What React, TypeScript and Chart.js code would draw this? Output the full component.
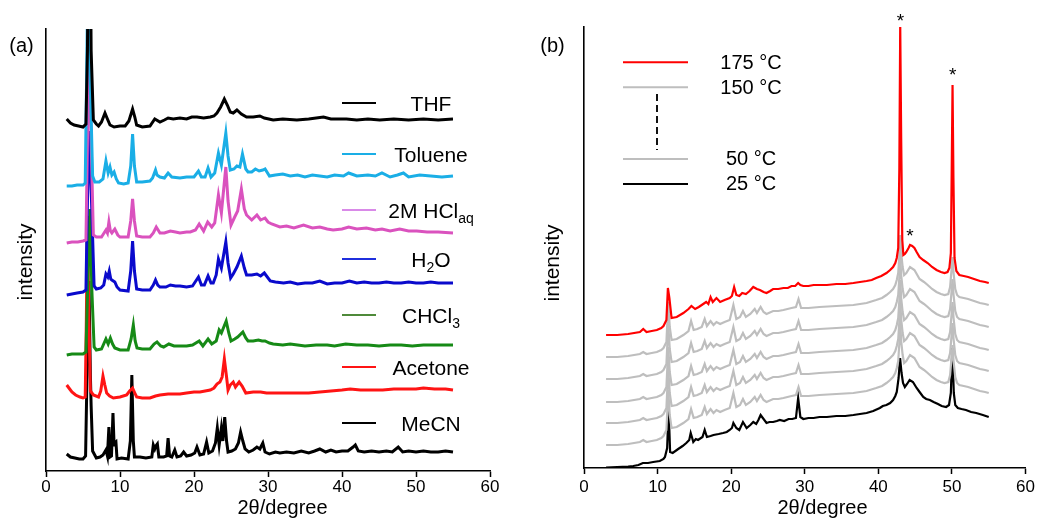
import React, { useEffect, useRef } from "react";
import { Chart, registerables } from "chart.js";

Chart.register(...registerables);

const FONT = "'Liberation Sans', Arial, Helvetica, sans-serif";

// ---------------- Panel (a): [2θ, intensity (offset, a.u.)] ----------------
const thf = [[2.8,352],[3.3,348],[3.8,346],[4.4,345],[5.0,344],[5.4,347],[5.6,420],[5.86,650],[6.1,420],[6.4,351],[6.8,347],[7.1,345],[7.5,349],[7.97,358],[8.3,352],[8.65,346],[9.2,344],[10.0,345],[10.7,345],[11.2,350],[11.7,362],[12.0,354],[12.25,346],[13.0,344],[14.05,345],[14.7,352],[15.4,349],[16.0,351],[16.5,353],[17.2,352],[18.1,353],[19.0,352],[19.7,354],[20.4,354],[21.3,353],[22.2,354],[22.7,355],[23.1,358],[23.6,364],[24.1,372],[24.5,366],[24.9,359],[25.3,358],[25.8,361],[26.4,357],[27.1,354],[28.0,354],[28.9,355],[29.5,353],[30.7,351],[32.0,352],[33.9,351],[35.5,352],[37.5,354],[38.5,352],[40.6,352],[42,351],[43.5,352],[45.1,351],[47,352],[49,351],[51,352],[53,351],[55,352]];
const toluene = [[2.8,285],[3.5,285],[4.2,286],[5.0,286],[5.3,288],[5.5,400],[5.7,520],[5.95,400],[6.3,295],[6.6,289],[7.2,289],[7.7,292],[8.1,310],[8.4,298],[8.65,304],[8.9,296],[9.2,299],[9.5,292],[9.8,288],[10.5,287],[11.1,288],[11.45,305],[11.7,337],[11.95,305],[12.25,289],[13.0,289],[14.05,290],[14.4,293],[14.8,301],[15.0,296],[15.4,294],[16.0,293],[16.5,298],[17.0,294],[18.1,293],[19.0,294],[20.0,294],[20.6,300],[21.0,294],[21.5,294],[21.9,303],[22.3,294],[22.8,298],[23.3,318],[23.7,306],[24.3,338],[24.6,315],[24.9,301],[25.4,302],[25.8,305],[26.2,304],[26.55,317],[27.0,302],[27.3,299],[27.8,299],[28.3,302],[28.8,300],[29.3,301],[29.6,302],[30.2,295],[31,296],[32,297],[33,295],[34,296],[35,294],[36,296],[37,295],[38,294],[39,296],[40.2,295],[40.9,298],[42,295],[43.5,296],[44.5,295],[45.4,298],[46.5,294],[47.5,296],[48.3,298],[49,294],[50.5,296],[52,295],[53.5,294],[55,295]];
const hclAq = [[2.8,228],[3.5,229],[4.3,229],[5.0,230],[5.4,231],[5.6,330],[5.85,430],[6.1,330],[6.4,236],[6.8,234],[7.5,234],[8.1,241],[8.3,238],[8.5,249],[8.7,240],[8.9,238],[9.3,242],[9.7,236],[10.0,234],[11.1,234],[11.45,250],[11.7,272],[11.95,250],[12.25,235],[13.0,234],[14.05,234],[14.5,238],[14.9,244],[15.4,238],[16.0,238],[16.8,240],[17.5,239],[18.1,238],[19.0,239],[19.5,239],[20.2,241],[20.7,247],[21.3,240],[21.85,249],[22.4,244],[22.8,248],[23.3,276],[23.7,258],[24.3,304],[24.6,270],[25.0,246],[25.5,254],[25.9,260],[26.4,282],[26.8,262],[27.1,256],[27.8,251],[28.5,256],[29.0,251],[29.6,253],[30.0,249],[30.5,247],[31.6,244],[32.5,245],[33.5,243],[34.8,246],[36,243],[37,244],[38,242],[38.8,241],[40,242],[40.9,244],[42,242],[43.3,243],[44.5,241],[45.4,242],[46.5,240],[47.8,242],[49,240],[50.1,240],[51.5,239],[53,239],[55,238]];
const water = [[2.8,176],[3.5,177],[4.2,178],[5.0,179],[5.4,181],[5.6,270],[5.9,340],[6.15,270],[6.5,185],[6.8,182],[7.4,183],[7.8,186],[8.1,197],[8.35,194],[8.55,200],[8.75,192],[8.9,191],[9.3,189],[9.6,184],[10.0,181],[11.1,180],[11.45,200],[11.7,230],[11.95,200],[12.25,182],[13.0,181],[14.05,181],[14.5,186],[14.8,191],[15.1,186],[15.4,184],[16.2,184],[16.8,186],[17.5,185],[18.1,185],[19.0,184],[19.8,185],[20.6,194],[21.0,186],[21.4,186],[21.9,195],[22.3,188],[22.6,188],[23.0,196],[23.3,212],[23.7,203],[24.3,229],[24.6,208],[24.95,193],[25.3,197],[25.8,204],[26.4,215],[26.8,203],[27.1,196],[27.8,196],[28.5,197],[29.0,195],[29.5,198],[30.3,190],[31,189],[32.1,188],[33,189],[34,187],[35,188],[36,188],[37,190],[38,187],[39,188],[40,188],[41,190],[42,188],[43,189],[44,188],[45,188],[46,189],[47,188],[48,188],[49,189],[50,188],[51,188],[52,189],[53,188],[55,188]];
const chloroform = [[2.8,116],[3.5,117],[4.3,117],[5.0,117],[5.4,119],[5.65,190],[5.95,262],[6.2,180],[6.5,124],[6.8,121],[7.5,122],[8.1,132],[8.4,127],[8.7,133],[9.0,127],[9.3,123],[10.0,121],[11.1,121],[11.5,132],[11.8,146],[12.05,130],[12.3,123],[13.0,122],[14.05,122],[14.6,127],[15.0,129],[15.5,125],[15.9,124],[16.6,127],[17.3,125],[18.1,125],[19.0,125],[19.8,126],[20.7,130],[21.2,125],[21.9,132],[22.4,127],[23.0,130],[23.4,141],[23.7,138],[24.35,150],[24.7,138],[25.0,130],[25.5,132],[25.9,134],[26.6,139],[27.0,133],[27.3,130],[28.0,130],[28.7,131],[29.2,130],[29.6,130],[30.2,128],[30.7,127],[32,126],[33,127],[34,126],[35,125],[36.5,126],[38,126],[39,125],[40.5,127],[42,126],[43.5,126],[45,125],[46.5,126],[48,126],[49.5,125],[51,126],[53,126],[55,126]];
const acetone = [[2.8,86],[3.2,82],[3.5,79],[4.0,76],[4.6,74],[5.0,73],[5.3,74],[5.45,150],[5.6,255],[5.8,150],[6.0,80],[6.4,76],[7.1,74],[7.4,80],[7.7,95],[7.95,86],[8.2,78],[8.6,75],[9.1,73],[10.0,74],[10.9,76],[11.3,80],[11.7,83],[12.0,78],[12.25,74],[13.0,73],[14.05,73],[14.8,75],[15.4,76],[16.5,77],[17.2,77],[18.1,77],[19.0,78],[20.0,79],[20.8,79],[21.5,80],[22.2,81],[22.7,83],[23.1,87],[23.5,89],[23.8,94],[24.1,112],[24.4,94],[24.6,81],[24.9,86],[25.3,89],[25.6,84],[26.1,89],[26.5,85],[27.0,78],[28.0,79],[29.0,79],[29.8,78],[31,78],[32.1,78],[34,78],[35.5,78],[37,79],[38.5,80],[40,81],[41.1,82],[42.5,81],[44,81],[45.5,81],[47,82],[48.5,82],[50,82],[51,83],[52.5,82],[54,82],[55,81]];
const acetonitrile = [[2.8,17],[3.3,14],[3.9,13],[4.5,12],[5.0,12],[5.35,15],[5.55,100],[5.8,190],[6.0,95],[6.1,65],[6.3,20],[6.8,13],[7.3,14],[7.7,16],[8.1,21],[8.3,15],[8.5,44],[8.65,14],[8.85,15],[9.05,58],[9.2,26],[9.3,28],[9.45,29],[9.6,12],[10.2,13],[11.1,12],[11.4,30],[11.6,96],[11.8,30],[11.95,14],[12.7,14],[13.5,13],[14.3,14],[14.5,26],[14.7,22],[14.85,25],[15.05,27],[15.25,14],[15.9,14],[16.3,15],[16.5,33],[16.7,15],[17.0,14],[17.4,21],[17.7,14],[18.2,15],[18.6,19],[19.0,15],[19.6,16],[20.1,18],[20.4,24],[20.8,16],[21.3,17],[21.7,29],[22.0,18],[22.5,20],[22.9,28],[23.15,43],[23.4,26],[23.7,43],[23.9,30],[24.15,54],[24.4,30],[24.6,19],[25.1,20],[25.6,22],[26.0,28],[26.3,39],[26.6,30],[26.9,22],[27.4,19],[28.0,21],[28.5,24],[28.9,22],[29.3,28],[29.6,19],[30.2,17],[31.0,19],[31.6,18],[32.5,19],[33.5,18],[34.5,20],[35.5,18],[36.3,20],[37.0,22],[37.8,19],[38.5,21],[39.2,19],[40,20],[40.8,20],[41.5,24],[41.8,26],[42.2,20],[43,19],[44,20],[45,19],[46,20],[46.8,19],[47.6,24],[48.2,19],[49,20],[50,19],[51,20],[52,19],[53,19],[54,20],[55,19]];

const solventSeries = [thf, toluene, hclAq, water, chloroform, acetone, acetonitrile];
const solventLabels = ["THF", "Toluene", "2M HCl{aq}", "H{2}O", "CHCl{3}", "Acetone", "MeCN"];
const solventColors = ["#000000", "#1AAEE6", "#DA52BE", "#0A0ACC", "#168A16", "#FF1414", "#000000"];
const solventLegendColors = ["#000000", "#1AAEE6", "#D98AE8", "#1F2FDD", "#4F8A3A", "#FF1414", "#000000"];

// ---------------- Panel (b): [2θ, intensity (offset, a.u.)] ----------------
const t175 = [[3,133],[4.5,133],[6,134],[7.6,136],[8.05,139],[8.5,136],[9.2,137],[9.9,138],[10.5,140],[10.8,142],[11.2,148],[11.4,180],[11.6,170],[11.9,150],[12.6,151],[13.5,155],[14.2,159],[14.6,162],[15.1,159],[15.6,161],[16.0,163],[16.6,166],[16.9,164],[17.2,171],[17.5,166],[18.0,170],[18.5,166],[19.1,168],[19.8,170],[20.1,172],[20.4,181],[20.7,173],[21.1,172],[21.5,175],[22.0,174],[22.5,177],[23.0,181],[23.5,179],[23.9,178],[24.4,176],[24.8,175],[25.3,177],[25.7,179],[26.4,179],[27.1,180],[27.7,180],[28.2,182],[28.7,182],[29.1,185],[29.4,183],[29.8,182],[30.5,182],[31.2,183],[32,183],[33,183],[34.3,184],[35.5,184],[36.6,185],[37.5,186],[38.4,187],[39.1,188],[39.7,190],[40.4,192],[41.1,195],[41.6,198],[42,201],[42.3,205],[42.5,210],[42.7,220],[42.85,300],[42.97,443],[43.1,330],[43.25,228],[43.4,213],[43.6,214],[43.8,216],[44.1,220],[44.3,223],[44.6,222],[44.9,220],[45.2,216],[45.6,211],[46.1,208],[46.7,205],[47.3,201],[47.9,198],[48.5,196],[49,195],[49.4,196],[49.65,200],[49.85,215],[49.97,300],[50.08,383],[50.2,290],[50.35,210],[50.6,197],[51,193],[51.6,192],[52.2,191],[53,189],[53.8,187],[54.5,186],[55,185]];
// shared pattern of the intermediate (150 °C … 50 °C) scans, relative to each scan's own offset
const gray2Theta = [3,4.5,6,7.6,8.05,8.5,9.2,9.9,10.5,10.8,11.2,11.45,11.65,11.9,12.6,13.5,14.2,14.55,14.9,15.4,16.0,16.4,16.7,17.2,17.6,18.0,18.5,19.1,19.8,20.3,20.7,21.2,21.6,22.0,22.6,23.2,23.5,24.0,24.4,24.8,25.7,26.4,27.1,28.2,28.8,29.15,29.5,30.5,32,34.3,36.6,38.4,39.7,40.5,41.1,41.6,42,42.3,42.5,42.7,42.88,42.98,43.1,43.3,43.5,43.8,44.3,44.9,45.6,46.2,46.7,47.3,47.9,48.5,49,49.5,49.75,49.95,50.08,50.22,50.45,50.7,51,51.6,52.2,53,53.8,54.5,55];
const grayRelative = [0,0,1,3,5,3,4,5,7,9,15,55,30,17,18,22,26,36,27,28,30,38,31,36,32,35,33,35,37,52,38,40,46,40,43,48,44,50,45,43,46,46,47,49,50,58,49,49,50,51,52,54,57,59,62,65,68,72,77,84,105,122,104,90,82,84,90,87,78,75,72,68,65,63,62,63,70,88,100,84,68,62,60,59,58,56,54,53,52];
const grayOffsets = [111, 89, 66, 45, 23]; // 150, 125, 100, 75, 50 °C
const t25 = [[3,0.5],[4.5,1],[6,1.5],[6.7,2],[7.4,3],[8,5],[8.7,5],[9.4,6],[10.3,7],[10.8,9],[11.0,11],[11.3,20],[11.5,60],[11.7,16],[12.05,15],[12.8,19],[13.4,22],[13.9,25],[14.3,28],[14.5,35],[14.7,30],[14.85,26],[15.2,29],[15.5,28],[16.1,31],[16.4,38],[16.7,31],[17.2,32],[17.6,33],[18.3,34],[18.9,35],[19.4,36],[19.8,38],[20.1,40],[20.3,45],[20.7,40],[21.1,38],[21.6,46],[22.1,40],[22.6,43],[23.0,46],[23.4,44],[23.7,48],[24.0,53],[24.3,50],[24.8,45],[25.2,46],[25.7,46],[26.2,47],[26.6,48],[27.2,47],[27.8,49],[28.3,49],[28.8,50],[29.1,70],[29.4,51],[29.8,49],[30.5,50],[31.2,50],[32,51],[33,51],[34.3,52],[35.5,52],[36.6,53],[37.5,54],[38.4,55],[39.3,57],[40.2,60],[40.6,62],[41.1,63],[41.6,65],[42,68],[42.3,72],[42.5,76],[42.75,90],[42.95,110],[43.15,95],[43.35,85],[43.6,81],[43.9,84],[44.25,88],[44.7,86],[45.2,80],[45.6,76],[46.1,71],[46.5,69],[47,68],[47.5,66],[48.1,64],[48.6,62],[49.2,61],[49.6,63],[49.85,75],[50.05,120],[50.25,75],[50.45,63],[50.8,60],[51.3,59],[51.9,58],[52.6,56],[53.3,55],[54.2,53],[55,51]];
const tempLabels = ["175 °C", "150 °C", "125 °C", "100 °C", "75 °C", "50 °C", "25 °C"];
const tempColors = ["#FF0000", "#BEBEBE", "#BEBEBE", "#BEBEBE", "#BEBEBE", "#BEBEBE", "#000000"];
const legendTemps = ["175 °C", "150 °C", "50 °C", "25 °C"];
const starX = [43.0, 44.3, 50.1];
const starY = [452, 237, 398];

const xTickValues = [0, 10, 20, 30, 40, 50, 60];

// ---------------- helpers ----------------
function pts(arr: number[][]) {
  return arr.map(([x, y]) => ({ x, y }));
}

function drawRich(ctx: CanvasRenderingContext2D, s: string, cx: number, cy: number, size: number) {
  const parts: { t: string; sub: boolean }[] = [];
  s.split(/(\{[^}]*\})/).forEach((p) => {
    if (!p) return;
    if (p.startsWith("{")) parts.push({ t: p.slice(1, -1), sub: true });
    else parts.push({ t: p, sub: false });
  });
  const sub = Math.round(size * 0.67);
  let total = 0;
  const widths = parts.map((p) => {
    ctx.font = `${p.sub ? sub : size}px ${FONT}`;
    const w = ctx.measureText(p.t).width;
    total += w;
    return w;
  });
  let x = cx - total / 2;
  const base = cy + 0.358 * size;
  ctx.textAlign = "left";
  ctx.textBaseline = "alphabetic";
  parts.forEach((p, i) => {
    ctx.font = `${p.sub ? sub : size}px ${FONT}`;
    ctx.fillText(p.t, x, p.sub ? base + size * 0.24 : base);
    x += widths[i];
  });
}

function centered(ctx: CanvasRenderingContext2D, s: string, x: number, y: number, size: number, rot = 0) {
  ctx.save();
  ctx.translate(x, y);
  if (rot) ctx.rotate(rot);
  ctx.font = `${size}px ${FONT}`;
  ctx.textAlign = "center";
  ctx.textBaseline = "middle";
  ctx.fillText(s, 0, 0);
  ctx.restore();
}

function seg(ctx: CanvasRenderingContext2D, x1: number, y1: number, x2: number, y2: number, color: string, w: number, dash: number[] = []) {
  ctx.save();
  ctx.strokeStyle = color;
  ctx.lineWidth = w;
  ctx.setLineDash(dash);
  ctx.beginPath();
  ctx.moveTo(x1, y1);
  ctx.lineTo(x2, y2);
  ctx.stroke();
  ctx.restore();
}

const xAxisCommon = (height: number, pad: number) => ({
  type: "linear",
  min: 0,
  max: 60,
  afterBuildTicks: (scale: any) => {
    scale.ticks = xTickValues.map((v) => ({ value: v }));
  },
  ticks: { color: "#000", font: { size: 17, family: FONT }, padding: pad, maxRotation: 0 },
  grid: { display: true, drawOnChartArea: false, drawTicks: true, tickLength: 6, tickColor: "#000", tickWidth: 1.5, color: "#000" },
  border: { display: true, color: "#000", width: 1.6 },
  afterFit: (scale: any) => {
    scale.height = height;
  },
});

const yAxisCommon = (max: number, width: number) => ({
  type: "linear",
  min: 0,
  max,
  ticks: { display: false },
  grid: { display: false },
  border: { display: true, color: "#000", width: 1.6 },
  afterFit: (scale: any) => {
    scale.width = width;
  },
});

// ---------------- panel (a) ----------------
const legendAY = [103, 154, 210, 259, 315, 367, 423];

const panelAText = {
  id: "panelAText",
  afterDraw(chart: any) {
    const ctx: CanvasRenderingContext2D = chart.ctx;
    ctx.save();
    ctx.fillStyle = "#000";
    centered(ctx, "(a)", 21.5, 46.5, 20);
    centered(ctx, "intensity", 26, 262, 21, -Math.PI / 2);
    centered(ctx, "2θ/degree", 282.5, 508.5, 20);
    solventLabels.forEach((lab, i) => {
      const y = legendAY[i];
      seg(ctx, 342, y, 376, y, solventLegendColors[i], 2);
      ctx.fillStyle = "#000";
      drawRich(ctx, lab, 431, y + 0.5, 21);
    });
    ctx.restore();
  },
};

function configA(): any {
  return {
    type: "line",
    data: {
      datasets: solventSeries.map((s, i) => ({
        label: solventLabels[i],
        data: pts(s),
        borderColor: solventColors[i],
        borderWidth: 3,
        pointRadius: 0,
        tension: 0,
        fill: false,
      })),
    },
    options: {
      responsive: false,
      animation: false,
      devicePixelRatio: 1,
      layout: { padding: { left: 0, right: 29, top: 29, bottom: 0 } },
      plugins: { legend: { display: false }, tooltip: { enabled: false } },
      scales: {
        x: xAxisCommon(53, 0),
        y: yAxisCommon(442, 46),
      },
    },
    plugins: [panelAText],
  };
}

// ---------------- panel (b) ----------------
const OFF_B = 519;

const panelBText = {
  id: "panelBText",
  afterDraw(chart: any) {
    const ctx: CanvasRenderingContext2D = chart.ctx;
    ctx.save();
    ctx.fillStyle = "#000";
    centered(ctx, "(b)", 552.5 - OFF_B, 46.5, 20);
    centered(ctx, "intensity", 553 - OFF_B, 263, 21, -Math.PI / 2);
    centered(ctx, "2θ/degree", 822.5 - OFF_B, 508.5, 20);
    const lx1 = 623 - OFF_B, lx2 = 688 - OFF_B;
    const ly = [62.3, 87.3, 159, 184];
    const lc = ["#FF0000", "#BEBEBE", "#BEBEBE", "#000000"];
    const ty = [63.7, 88.8, 159.2, 184.2];
    legendTemps.forEach((lab, i) => {
      seg(ctx, lx1, ly[i], lx2, ly[i], lc[i], 2);
      ctx.fillStyle = "#000";
      centered(ctx, lab, 751 - OFF_B, ty[i], 20);
    });
    seg(ctx, 657 - OFF_B, 94, 657 - OFF_B, 150, "#111", 2, [7, 4]);
    const xs = chart.scales.x, ys = chart.scales.y;
    ctx.font = `19px ${FONT}`;
    ctx.textAlign = "center";
    ctx.textBaseline = "alphabetic";
    starX.forEach((sx, i) => {
      const px = xs.getPixelForValue(sx);
      const py = ys.getPixelForValue(starY[i]);
      ctx.fillText("*", px, py + 10.5);
    });
    ctx.restore();
  },
};

function configB(): any {
  const series = [pts(t175)]
    .concat(grayOffsets.map((off) => gray2Theta.map((x, i) => ({ x, y: grayRelative[i] + off }))))
    .concat([pts(t25)]);
  return {
    type: "line",
    data: {
      datasets: series.map((d, i) => ({
        label: tempLabels[i],
        data: d,
        borderColor: tempColors[i],
        borderWidth: 2.2,
        pointRadius: 0,
        tension: 0,
        fill: false,
      })),
    },
    options: {
      responsive: false,
      animation: false,
      devicePixelRatio: 1,
      layout: { padding: { left: 0, right: 12, top: 27, bottom: 0 } },
      plugins: { legend: { display: false }, tooltip: { enabled: false } },
      scales: {
        x: xAxisCommon(56, 3),
        y: yAxisCommon(441, 65),
      },
    },
    plugins: [panelBText],
  };
}

function Panel({ left, make }: { left: number; make: () => any }) {
  const ref = useRef<HTMLCanvasElement>(null);
  useEffect(() => {
    if (!ref.current) return;
    const chart = new Chart(ref.current, make());
    return () => chart.destroy();
  }, []);
  return (
    <canvas
      ref={ref}
      width={519}
      height={524}
      style={{ position: "absolute", left, top: 0, width: 519, height: 524 }}
    />
  );
}

export default function App() {
  return (
    <div style={{ position: "fixed", left: 0, top: 0, width: 1038, height: 524, background: "#fff", overflow: "hidden" }}>
      <Panel left={0} make={configA} />
      <Panel left={519} make={configB} />
    </div>
  );
}
